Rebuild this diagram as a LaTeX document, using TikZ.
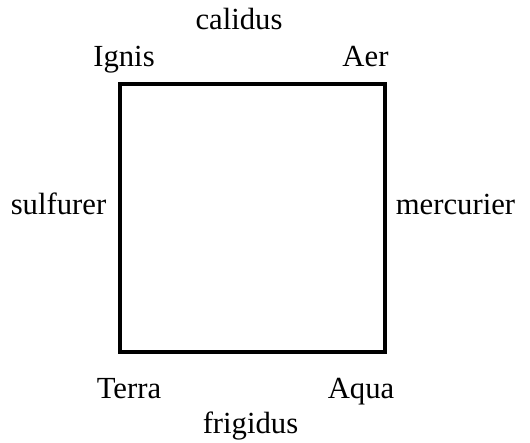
\documentclass[tikz,border=0pt]{standalone}
\usepackage{fontspec}
\setmainfont{Liberation Serif}
\begin{document}
\begin{tikzpicture}[x=1pt,y=1pt,
  lab/.style={anchor=base,inner sep=0pt,font=\fontsize{30.7}{36}\selectfont},
  box/.style={draw,line width=3.5pt,minimum width=265pt,minimum height=268pt,inner sep=0pt}]
\useasboundingbox (0,0) rectangle (530,443);
\node[box] (sq) at (252.5,225) {};
\node[lab] (calidus) at (239,413) {calidus};
\node[lab] (ignis) at (124,376) {Ignis};
\node[lab] (aer) at (365.5,376) {Aer};
\node[lab] (sulf) at (58.5,228) {sulfurer};
\node[lab] (merc) at (455.5,228) {mercurier};
\node[lab] (terra) at (129,44) {Terra};
\node[lab] (aqua) at (361,44) {Aqua};
\node[lab] (frig) at (250.5,9) {frigidus};
\end{tikzpicture}
\end{document}
